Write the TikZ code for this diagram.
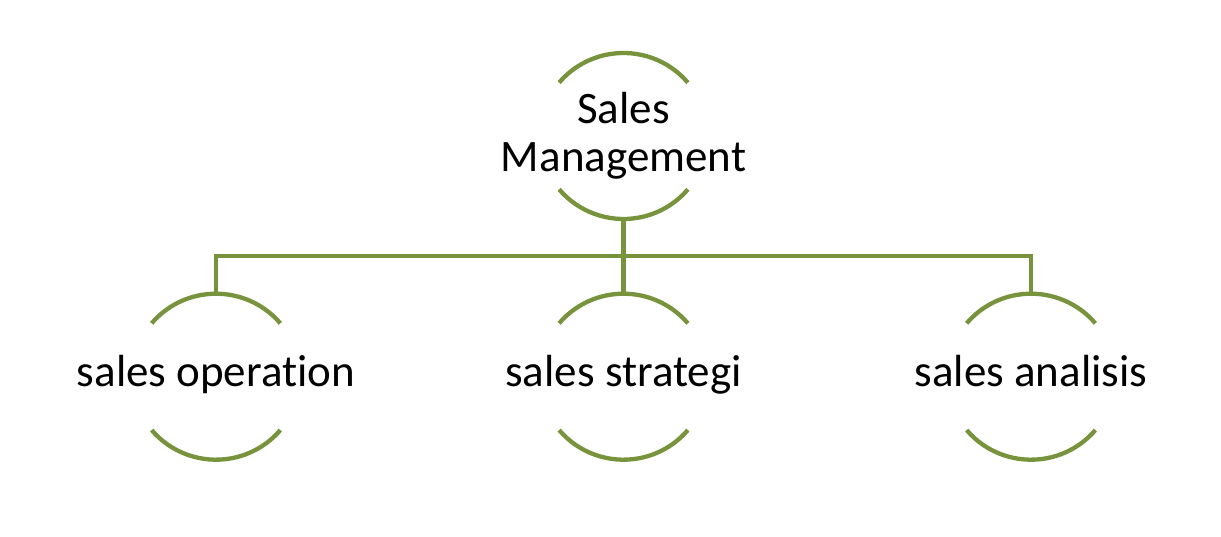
\documentclass[tikz,border=0pt]{standalone}
\usepackage{fontspec}
\setmainfont{Carlito}[RawFeature=-liga]
\usetikzlibrary{calc}
\definecolor{olive}{RGB}{119,147,60}
\tikzset{
  unit/.style={rectangle, minimum height=166pt, minimum width=166pt, inner sep=0pt, draw=none, align=center,
    font=\fontsize{45}{48}\selectfont},
  leaf/.style={unit, text height=31.5pt, text depth=11.25pt},
  arcline/.style={draw=olive, line width=4.3pt},
  link/.style={draw=olive, line width=4.3pt}
}
\newcommand{\halfarcs}[1]{%
  \draw[arcline] ($(#1)+(40:84pt and 83pt)$) arc[start angle=40, end angle=140, x radius=84pt, y radius=83pt];
  \draw[arcline] ($(#1)+(220:84pt and 83pt)$) arc[start angle=220, end angle=320, x radius=84pt, y radius=83pt];
}
\begin{document}
\begin{tikzpicture}[x=1pt,y=1pt]
\useasboundingbox (0,0) rectangle (1221,537);
\node[unit] (top) at (623.5,401) {Sales\\Management};
\node[leaf] (c1) at (216,160.3) {sales operation};
\node[leaf] (c2) at (623.5,160.3) {sales strategi};
\node[leaf] (c3) at (1031,160.3) {sales analisis};
\halfarcs{top}
\halfarcs{c1}
\halfarcs{c2}
\halfarcs{c3}
\coordinate (hub) at (623.5,281);
\draw[link] (top.south) -- (hub);
\draw[link] (hub) -- (c2.north);
\draw[link] (hub) -| (c1.north);
\draw[link] (hub) -| (c3.north);
\end{tikzpicture}
\end{document}
